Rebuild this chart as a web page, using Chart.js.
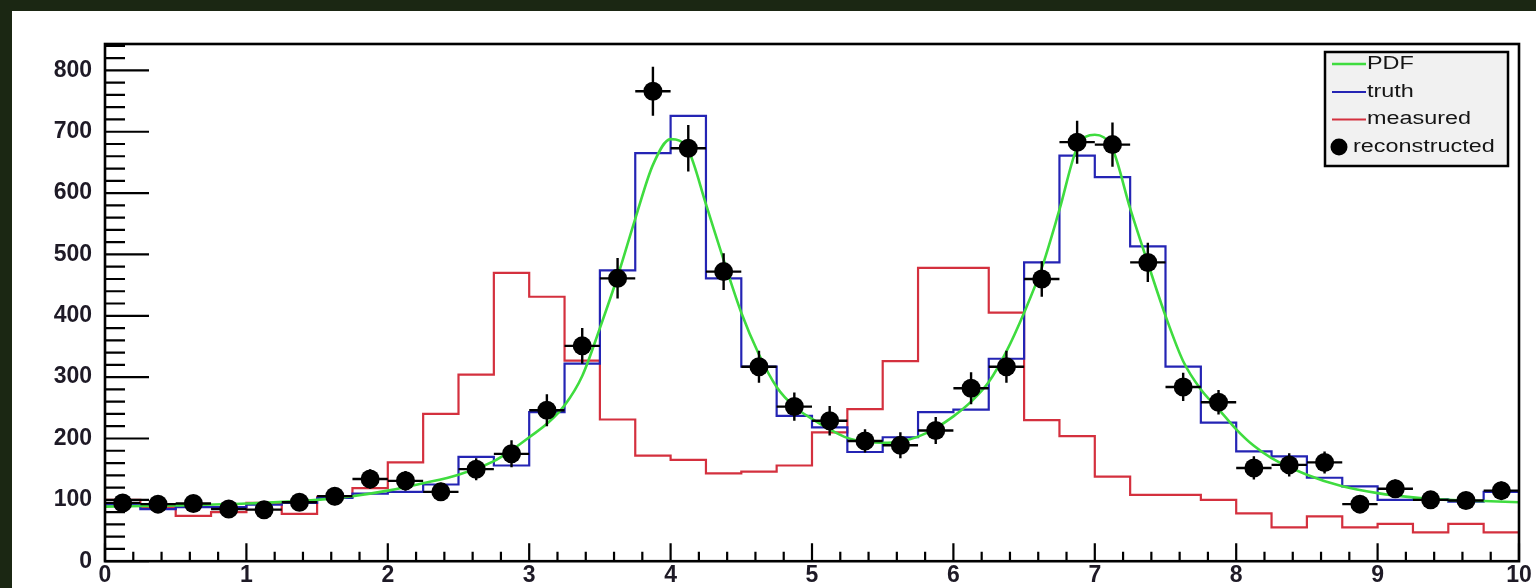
<!DOCTYPE html>
<html>
<head>
<meta charset="utf-8">
<script src="https://cdn.jsdelivr.net/npm/chart.js@4.4.1/dist/chart.umd.min.js"></script>
<style>
  html, body { margin: 0; padding: 0; width: 1536px; height: 588px; overflow: hidden; background: #1b2713; }
  #panel { position: absolute; left: 12px; top: 11px; width: 1524px; height: 577px; background: #ffffff; }
  canvas { display: block; }
</style>
</head>
<body>
<div id="panel"><canvas id="unfold" width="1524" height="577"></canvas></div>
<script>
// Binning: 40 bins of width 0.25 on [0, 10]
const BIN_WIDTH = 0.25;
const N_BINS = 40;
const binEdges = Array.from({ length: N_BINS + 1 }, (_, i) => i * BIN_WIDTH);
const binCenters = binEdges.slice(0, N_BINS).map(e => e + BIN_WIDTH / 2);

// Generated (true) distribution, per bin
const truth = [
  92, 85, 88, 88, 92, 95, 103, 110, 113, 125,
  170, 156, 243, 322, 474, 665, 726, 461, 317, 237,
  218, 178, 202, 243, 247, 330, 487, 661, 626, 513,
  317, 226, 179, 171, 136, 122, 100, 101, 97, 113
];

// Detector-level (smeared and shifted) distribution, per bin
const measured = [
  100, 88, 74, 80, 95, 77, 105, 119, 161, 240,
  304, 470, 431, 327, 231, 172, 165, 143, 146, 156,
  210, 248, 326, 478, 478, 405, 230, 204, 138, 108,
  108, 100, 78, 55, 73, 55, 61, 47, 61, 47
];

// Unfolded result and its uncertainties, per bin
const reconstructed = [
  95, 93, 94, 85, 84, 96, 106, 134, 131, 113,
  150, 175, 246, 351, 461, 766, 673, 472, 317, 252,
  229, 196, 189, 213, 282, 317, 460, 683, 679, 487,
  284, 259, 152, 157, 161, 93, 118, 100, 99, 115
];
const reconstructedErr = [
  14, 14, 14, 13, 13, 14, 15, 16, 16, 15,
  18, 22, 26, 29, 33, 40, 38, 30, 26, 23,
  24, 19, 21, 22, 26, 26, 29, 35, 36, 32,
  23, 20, 19, 19, 18, 14, 15, 14, 14, 15
];

// Underlying probability density (two resonances on a flat background)
const pdfX = [
  0, 0.5, 1, 1.5, 1.75, 2, 2.25, 2.5, 2.75, 2.875,
  3, 3.125, 3.25, 3.375, 3.5, 3.625, 3.75, 3.875, 4, 4.125,
  4.25, 4.375, 4.5, 4.625, 4.75, 4.875, 5, 5.125, 5.25, 5.375,
  5.5, 5.625, 5.75, 5.875, 6, 6.125, 6.25, 6.375, 6.5, 6.625,
  6.75, 6.875, 7, 7.125, 7.25, 7.375, 7.5, 7.625, 7.75, 7.875,
  8, 8.125, 8.25, 8.5, 8.75, 9, 9.25, 9.5, 9.75, 10
];
const pdfY = [
  89, 91, 94, 100, 106, 115, 127, 141, 163, 181,
  202, 224, 254, 302, 380, 464, 558, 646, 688, 670,
  582, 491, 405, 337, 284, 252, 232, 215, 201, 195,
  193, 195, 203, 217, 236, 260, 292, 342, 405, 478,
  573, 674, 695, 672, 575, 486, 400, 326, 280, 248,
  215, 188, 168, 141, 122, 111, 104, 100, 98, 96
];

const seriesLabels = ['PDF', 'truth', 'measured', 'reconstructed'];
const COLORS = { pdf: '#3fdc3f', truth: '#2424b4', measured: '#d4303e', reco: '#000000' };

// A histogram as a 'middle'-stepped line through bin centres, closed at the range edges
function histogramPoints(values) {
  const pts = [{ x: binEdges[0], y: values[0] }];
  values.forEach((v, i) => pts.push({ x: binCenters[i], y: v }));
  pts.push({ x: binEdges[N_BINS], y: values[N_BINS - 1] });
  return pts;
}

// Inward ROOT-style ticks and the closed frame
const frameAndTicks = {
  id: 'frameAndTicks',
  afterDatasetsDraw(chart) {
    const { ctx, chartArea: a, scales: { x, y } } = chart;
    ctx.save();
    ctx.strokeStyle = '#000';
    ctx.lineWidth = 2.2;
    ctx.beginPath();
    for (let i = 0; i <= 50; i++) {
      const px = x.getPixelForValue(i * 0.2);
      const len = i % 5 === 0 ? 18 : 9.5;
      ctx.moveTo(px, a.bottom);
      ctx.lineTo(px, a.bottom - len);
    }
    for (let i = 0; i * 20 <= y.max; i++) {
      const py = y.getPixelForValue(i * 20);
      const len = i % 5 === 0 ? 44 : 20;
      ctx.moveTo(a.left, py);
      ctx.lineTo(a.left + len, py);
    }
    ctx.stroke();
    ctx.lineWidth = 2.6;
    ctx.strokeRect(a.left, a.top, a.right - a.left, a.bottom - a.top);
    ctx.restore();
  }
};

// Bin-width horizontal bars and vertical uncertainty bars on the unfolded points
const errorBars = {
  id: 'errorBars',
  afterDatasetsDraw(chart) {
    const { ctx, scales: { x, y } } = chart;
    ctx.save();
    ctx.strokeStyle = COLORS.reco;
    ctx.lineWidth = 2.4;
    ctx.beginPath();
    reconstructed.forEach((v, i) => {
      const c = binCenters[i];
      const px = x.getPixelForValue(c);
      const py = y.getPixelForValue(v);
      ctx.moveTo(x.getPixelForValue(c - BIN_WIDTH / 2), py);
      ctx.lineTo(x.getPixelForValue(c + BIN_WIDTH / 2), py);
      ctx.moveTo(px, y.getPixelForValue(v - reconstructedErr[i]));
      ctx.lineTo(px, y.getPixelForValue(v + reconstructedErr[i]));
    });
    ctx.stroke();
    ctx.restore();
  }
};

// Boxed legend in the upper right corner of the frame
const legendBox = {
  id: 'legendBox',
  afterDraw(chart) {
    const { ctx, chartArea: a } = chart;
    const w = 183, h = 114;
    const left = a.right - 194, top = a.top + 8;
    ctx.save();
    ctx.fillStyle = '#f1f1f1';
    ctx.fillRect(left, top, w, h);
    ctx.strokeStyle = '#000';
    ctx.lineWidth = 2.5;
    ctx.strokeRect(left, top, w, h);
    const rowY = [12, 40, 67.5, 95];
    const colors = [COLORS.pdf, COLORS.truth, COLORS.measured, COLORS.reco];
    ctx.font = '18px "Liberation Sans", Arial, sans-serif';
    ctx.textBaseline = 'middle';
    seriesLabels.forEach((label, i) => {
      const cy = top + rowY[i];
      let tx = left + 42;
      if (i < 3) {
        ctx.strokeStyle = colors[i];
        ctx.lineWidth = i === 0 ? 2.6 : 2.2;
        ctx.beginPath();
        ctx.moveTo(left + 7, cy);
        ctx.lineTo(left + 41, cy);
        ctx.stroke();
      } else {
        ctx.fillStyle = colors[i];
        ctx.beginPath();
        ctx.arc(left + 14, cy, 8.5, 0, Math.PI * 2);
        ctx.fill();
        tx = left + 28;
      }
      ctx.save();
      ctx.translate(tx, cy);
      ctx.scale(1.3, 1);
      ctx.fillStyle = '#151515';
      ctx.fillText(label, 0, 0);
      ctx.restore();
    });
    ctx.restore();
  }
};

Chart.defaults.font.family = '"Liberation Sans", Arial, sans-serif';

new Chart(document.getElementById('unfold'), {
  type: 'line',
  data: {
    datasets: [
      {
        label: seriesLabels[3],
        data: reconstructed.map((v, i) => ({ x: binCenters[i], y: v })),
        showLine: false,
        pointRadius: 9.5,
        pointBackgroundColor: COLORS.reco,
        pointBorderWidth: 0,
        order: 0
      },
      {
        label: seriesLabels[0],
        data: pdfX.map((xv, i) => ({ x: xv, y: pdfY[i] })),
        borderColor: COLORS.pdf,
        borderWidth: 2.6,
        cubicInterpolationMode: 'monotone',
        pointRadius: 0,
        order: 1
      },
      {
        label: seriesLabels[1],
        data: histogramPoints(truth),
        borderColor: COLORS.truth,
        borderWidth: 2.2,
        stepped: 'middle',
        pointRadius: 0,
        order: 2
      },
      {
        label: seriesLabels[2],
        data: histogramPoints(measured),
        borderColor: COLORS.measured,
        borderWidth: 2.2,
        stepped: 'middle',
        pointRadius: 0,
        order: 3
      }
    ]
  },
  options: {
    responsive: false,
    animation: false,
    devicePixelRatio: 1,
    layout: { padding: { left: 0, right: 17, top: 33, bottom: 0 } },
    plugins: { legend: { display: false }, tooltip: { enabled: false } },
    scales: {
      x: {
        type: 'linear',
        min: 0,
        max: 10,
        grid: { display: false, drawTicks: false },
        border: { display: false },
        ticks: {
          stepSize: 1,
          autoSkip: false,
          maxRotation: 0,
          padding: 1,
          color: '#1e1a26',
          font: { size: 23, weight: 'bold' }
        },
        afterFit(scale) { scale.height = 26; }
      },
      y: {
        type: 'linear',
        min: 0,
        max: 843,
        grid: { display: false, drawTicks: false },
        border: { display: false },
        ticks: {
          stepSize: 100,
          includeBounds: false,
          autoSkip: false,
          padding: 13,
          color: '#1e1a26',
          font: { size: 23, weight: 'bold' }
        },
        afterFit(scale) { scale.width = 93; }
      }
    }
  },
  plugins: [frameAndTicks, errorBars, legendBox]
});
</script>
</body>
</html>
